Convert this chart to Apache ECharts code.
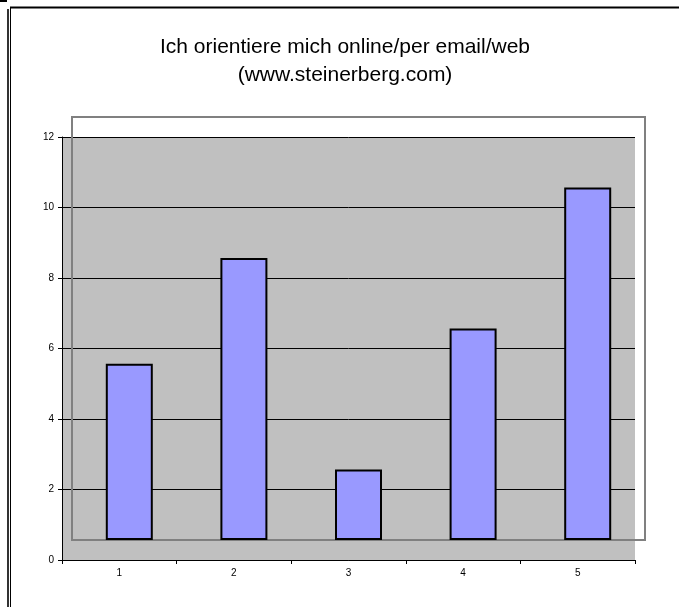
<!DOCTYPE html>
<html>
<head>
<meta charset="utf-8">
<script src="https://cdn.jsdelivr.net/npm/echarts@6/dist/echarts.min.js"></script>
<style>
html,body{margin:0;padding:0;background:#fff;}
#c{width:679px;height:607px;}
</style>
</head>
<body>
<div id="c"></div>
<script>
var categories = ['1', '2', '3', '4', '5'];
var values = [5, 8, 2, 6, 10];
var titleLines = ['Ich orientiere mich online/per email/web', '(www.steinerberg.com)'];

var chart = echarts.init(document.getElementById('c'), null, {renderer: 'canvas'});
var font = 'Arial, "Liberation Sans", sans-serif';
var option = {
  animation: false,
  backgroundColor: '#fff',
  title: {
    text: titleLines.join('\n'),
    left: 345, top: 33, textAlign: 'center', padding: 0,
    textStyle: {fontFamily: font, fontSize: 21, fontWeight: 'normal', color: '#000', lineHeight: 28}
  },
  grid: [
    {left: 62, top: 137, width: 573, height: 423, show: true, backgroundColor: '#C0C0C0', borderWidth: 0, z: 0},
    {left: 72, top: 117, width: 573, height: 423, show: true, backgroundColor: 'rgba(0,0,0,0)', borderColor: '#808080', borderWidth: 2, z: 1}
  ],
  xAxis: [
    {gridIndex: 0, type: 'category', data: categories, boundaryGap: true,
     axisLine: {lineStyle: {color: '#000', width: 1}},
     axisTick: {show: true, length: 4, lineStyle: {color: '#000'}},
     axisLabel: {fontFamily: font, fontSize: 10, color: '#000', margin: 8}},
    {gridIndex: 1, type: 'category', data: categories, show: false}
  ],
  yAxis: [
    {gridIndex: 0, type: 'value', min: 0, max: 12, interval: 2,
     axisLine: {show: true, lineStyle: {color: '#000', width: 1}},
     axisTick: {show: true, length: 4, lineStyle: {color: '#000'}},
     axisLabel: {fontFamily: font, fontSize: 10, color: '#000', margin: 8},
     splitLine: {show: true, lineStyle: {color: '#000', width: 1}}},
    {gridIndex: 1, type: 'value', min: 0, max: 12, interval: 2, show: false, splitLine: {show: false}}
  ],
  series: [{
    type: 'bar', xAxisIndex: 1, yAxisIndex: 1, data: values,
    barWidth: 47, z: 3,
    itemStyle: {color: '#9999FF', borderColor: '#000', borderWidth: 2}
  }],
  graphic: [
    {type: 'rect', shape: {x: 0, y: 0, width: 7, height: 2}, style: {fill: '#000'}},
    {type: 'line', shape: {x1: 8, y1: 9, x2: 8, y2: 607}, style: {stroke: '#333', lineWidth: 2}},
    {type: 'line', shape: {x1: 10.5, y1: 7, x2: 10.5, y2: 607}, style: {stroke: '#000', lineWidth: 1}},
    {type: 'line', shape: {x1: 10, y1: 7.5, x2: 679, y2: 7.5}, style: {stroke: '#000', lineWidth: 2}}
  ]
};
chart.setOption(option);
</script>
</body>
</html>
